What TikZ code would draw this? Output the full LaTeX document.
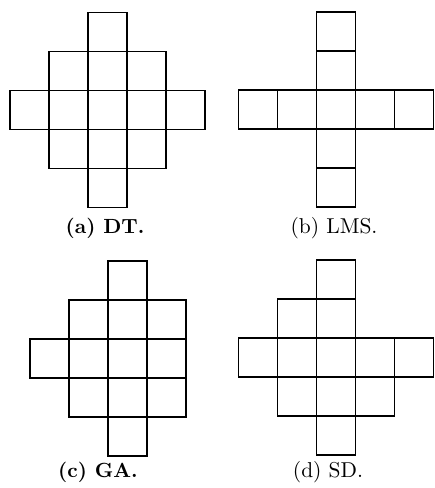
\documentclass[tikz,border=0pt]{standalone}
\begin{document}
\begin{tikzpicture}[x=1pt,y=-1pt,
  cell/.style={draw=black,line width=1.3pt,line join=miter},
  captext/.style={anchor=base,inner sep=0pt}]
\useasboundingbox (0,0) rectangle (435,488);
% (a) DT
\begin{scope}[shift={(10,12.5)}]
  \foreach \c/\r in {2/0, 1/1,2/1,3/1, 0/2,1/2,2/2,3/2,4/2, 1/3,2/3,3/3, 2/4}
    \draw[cell] (39*\c,39*\r) rectangle ++(39,39);
\end{scope}
% (b) LMS
\begin{scope}[shift={(238.7,12)}]
  \foreach \c/\r in {2/0, 2/1, 0/2,1/2,2/2,3/2,4/2, 2/3, 2/4}
    \draw[cell] (39*\c,39*\r) rectangle ++(39,39);
\end{scope}
% (c) GA
\begin{scope}[shift={(30,261)}]
  \foreach \c/\r in {2/0, 1/1,2/1,3/1, 0/2,1/2,2/2,3/2, 1/3,2/3,3/3, 2/4}
    \draw[cell] (39*\c,39*\r) rectangle ++(39,39);
\end{scope}
% (d) SD
\begin{scope}[shift={(238.7,260)}]
  \foreach \c/\r in {2/0, 1/1,2/1, 0/2,1/2,2/2,3/2,4/2, 1/3,2/3,3/3, 2/4}
    \draw[cell] (39*\c,39*\r) rectangle ++(39,39);
\end{scope}
\node[captext] (capa) at (105,233.5) {\scalebox{2.05}{\bfseries (a) DT.}};
\node[captext] (capb) at (334,233) {\scalebox{2.15}{(b) LMS.}};
\node[captext] (capc) at (98,477.5) {\scalebox{2.05}{\bfseries (c) GA.}};
\node[captext] (capd) at (328,477.5) {\scalebox{2.15}{(d) SD.}};
\end{tikzpicture}
\end{document}
